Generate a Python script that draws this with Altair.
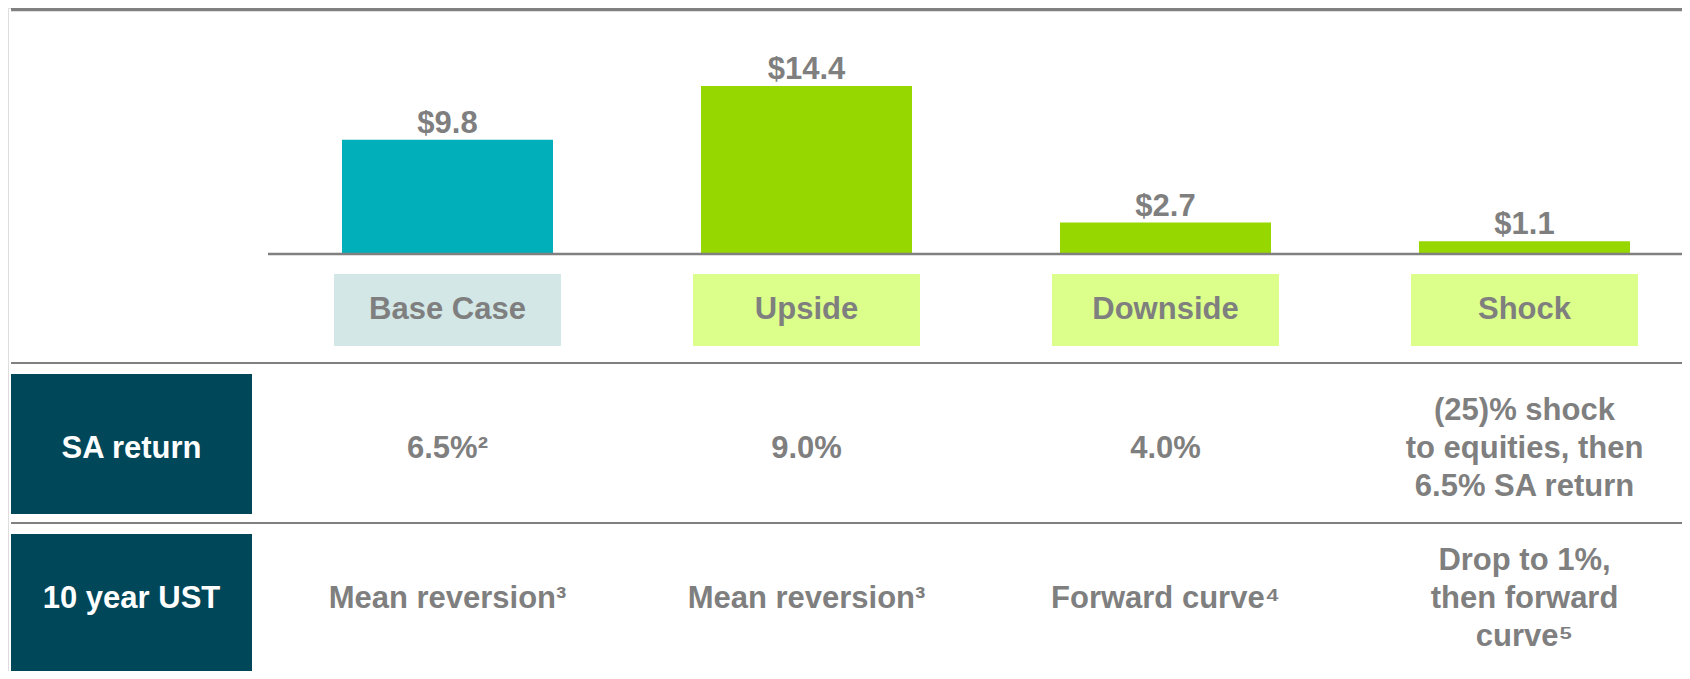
import altair as alt
import pandas as pd

# ---- data ----
scenarios = ["Base Case", "Upside", "Downside", "Shock"]
values = [9.8, 14.4, 2.7, 1.1]
bar_colors = ["#00afb9", "#97d700", "#97d700", "#97d700"]
box_colors = ["#d3e8e6", "#dbff8a", "#dbff8a", "#dbff8a"]
row_names = ["SA return", "10 year UST"]
sa_return = ["6.5%²", "9.0%", "4.0%", "(25)% shock\nto equities, then\n6.5% SA return"]
ust_10y = ["Mean reversion³", "Mean reversion³", "Forward curve⁴", "Drop to 1%,\nthen forward\ncurve⁵"]

bars_df = pd.DataFrame({"scenario": scenarios, "value": values})
rows_df = pd.DataFrame({"row": row_names})
cells_df = pd.DataFrame(
    {
        "scenario": scenarios * 2,
        "row": [row_names[0]] * 4 + [row_names[1]] * 4,
        "text": sa_return + ust_10y,
    }
)

W, H = 1674, 663
FONT = "Liberation Sans"
GRAY = "#7f7f7f"
LINE = "#808080"
DARK = "#00475a"
LH = 38

xscale = alt.Scale(domain=scenarios, range=[260, 1696], paddingInner=0, paddingOuter=0)
X = alt.X("scenario:N", scale=xscale, axis=None, sort=scenarios)
yval = alt.Scale(domain=[0, 14.4], range=[246, 78], nice=False, zero=True)
yrow = alt.Scale(domain=row_names, range=[366, 666], paddingInner=0.125, paddingOuter=0)
ysep = alt.Scale(domain=row_names, range=[355, 655], paddingInner=0.125, paddingOuter=0)

base = alt.Chart(bars_df)

bars = base.mark_bar(width=211).encode(
    x=X,
    y=alt.Y("value:Q", scale=yval, axis=None),
    y2=alt.Y2(datum=0),
    color=alt.Color("scenario:N", scale=alt.Scale(domain=scenarios, range=bar_colors), legend=None),
)

labels = base.transform_calculate(lbl="'$' + format(datum.value, '.1f')").mark_text(
    baseline="alphabetic", dy=-7, font=FONT, fontSize=31, fontWeight="bold", color=GRAY
).encode(x=X, y=alt.Y("value:Q", scale=yval, axis=None), text="lbl:N")

baseline = base.transform_filter("datum.scenario == 'Base Case'").mark_rule(
    color=LINE, strokeWidth=2.5
).encode(x=alt.value(260), x2=alt.value(W), y=alt.Y(datum=0, scale=yval, axis=None))

top_line = base.transform_filter("datum.scenario == 'Base Case'").mark_rule(
    color=LINE, strokeWidth=3.5
).encode(x=alt.value(3), x2=alt.value(W), y=alt.value(1.5))

sep_lines = alt.Chart(rows_df).mark_rule(color=LINE, strokeWidth=2).encode(
    x=alt.value(3), x2=alt.value(W),
    y=alt.Y("row:N", scale=ysep, axis=None, bandPosition=0),
)

label_boxes = base.mark_bar(width=227).encode(
    x=X,
    y=alt.value(266),
    y2=alt.value(338),
    color=alt.Color("scenario:N", scale=alt.Scale(domain=scenarios, range=box_colors), legend=None),
)

label_text = base.mark_text(
    baseline="middle", font=FONT, fontSize=31, fontWeight="bold", color=GRAY
).encode(x=X, y=alt.value(302), text="scenario:N")

header_boxes = alt.Chart(rows_df).mark_rect(color=DARK).encode(
    x=alt.value(3), x2=alt.value(244), y=alt.Y("row:N", scale=yrow, axis=None)
)
header_text = alt.Chart(rows_df).mark_text(
    baseline="middle", font=FONT, fontSize=31, fontWeight="bold", color="white"
).encode(x=alt.value(123.5), y=alt.Y("row:N", scale=yrow, axis=None), text="row:N")

cell_single = alt.Chart(cells_df).transform_filter(
    "indexof(datum.text, '\\n') < 0"
).mark_text(
    baseline="middle", align="center", font=FONT, fontSize=31, fontWeight="bold", color=GRAY
).encode(x=X, y=alt.Y("row:N", scale=yrow, axis=None), text="text:N")

cell_multi = alt.Chart(cells_df).transform_filter(
    "indexof(datum.text, '\\n') >= 0"
).mark_text(
    baseline="middle", align="center", font=FONT, fontSize=31, fontWeight="bold",
    color=GRAY, lineBreak="\n", lineHeight=LH, dy=-LH
).encode(x=X, y=alt.Y("row:N", scale=yrow, axis=None), text="text:N")

chart = (
    alt.layer(
        top_line, bars, labels, baseline, label_boxes, label_text,
        sep_lines, header_boxes, header_text, cell_single, cell_multi,
    )
    .resolve_scale(y="independent", color="independent")
    .properties(width=W, height=H, padding=0, autosize=alt.AutoSizeParams(type="none"))
    .configure_view(stroke=None)
    .configure(background="white")
)

chart.save("out.html", embed_options={"renderer": "svg", "actions": False})
